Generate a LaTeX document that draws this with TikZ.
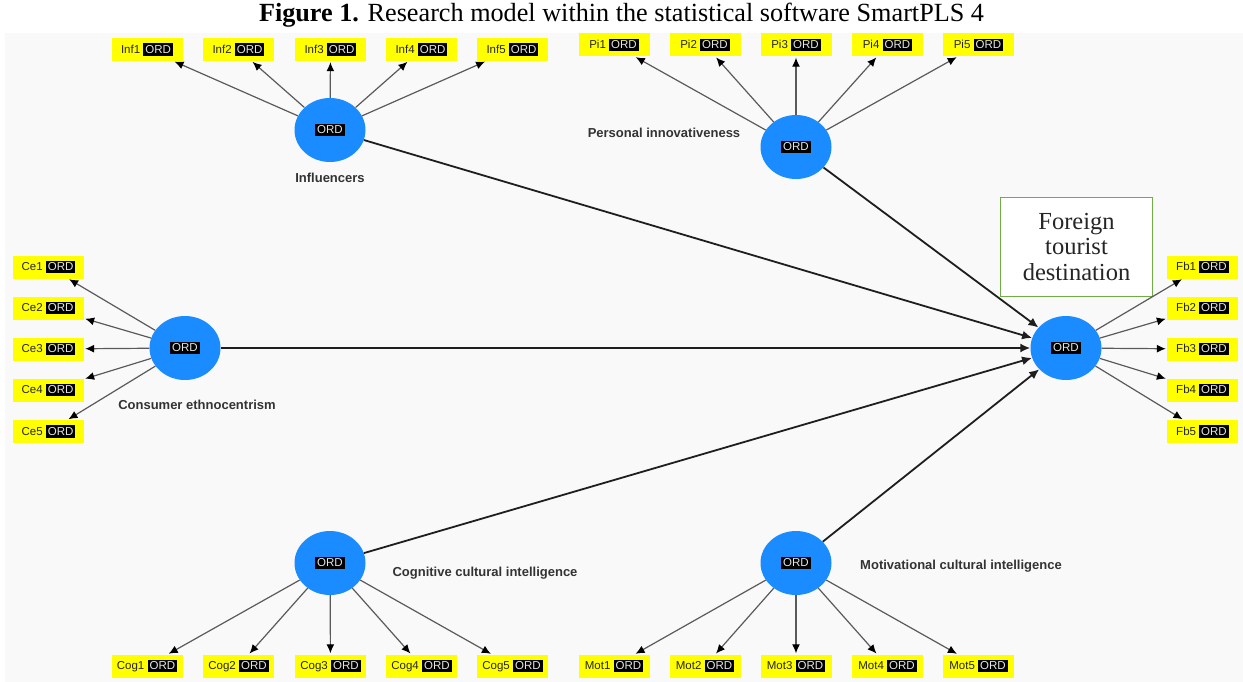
\documentclass[tikz,border=0pt]{standalone}
\usepackage{fontspec}
\setmainfont{Liberation Serif}
\setsansfont{Liberation Sans}
\usetikzlibrary{shapes.geometric,arrows.meta}
\definecolor{plsblue}{HTML}{1A8CFF}
\definecolor{plsyellow}{HTML}{FFFF00}
\definecolor{boxgreen}{HTML}{70AD47}
\definecolor{bggray}{HTML}{F9F9F9}
\definecolor{labgray}{HTML}{333333}
\definecolor{indline}{HTML}{5A5A5A}
\definecolor{pathline}{HTML}{1E1E1E}
\newcommand{\ordtag}{{\setlength{\fboxsep}{2pt}\colorbox{black}{\textcolor{white!90!black}{ORD}}}}
\tikzset{
  lv/.style={ellipse, fill=plsblue, minimum width=71pt, minimum height=64pt, inner sep=0pt,
    font=\sffamily\fontsize{11.5}{12}\selectfont},
  indbox/.style={rectangle, fill=plsyellow, minimum width=71pt, minimum height=23pt, inner sep=1pt,
    font=\sffamily\fontsize{11.5}{12}\selectfont, text=black!85},
  lvlabel/.style={font=\sffamily\bfseries\fontsize{13}{14}\selectfont, text=labgray, inner sep=0pt},
  indarrow/.style={draw=indline, line width=1.2pt, -{Latex[length=9pt,width=8pt,color=black]}, shorten >=1pt},
  patharrow/.style={draw=pathline, line width=1.8pt, -{Latex[length=10pt,width=9pt]}}
}
\begin{document}
\begin{tikzpicture}[x=1pt,y=-1pt]
\useasboundingbox (0,0) rectangle (1243,682);
\fill[white] (0,0) rectangle (1243,682);
\fill[bggray] (5,33) rectangle (1243,682);
% title
\node[font=\fontsize{26.2}{28}\selectfont, inner sep=0pt] (title) at (621.5,15) {\textbf{Figure 1.} Research model within the statistical software SmartPLS 4};
% latent variables
\node[lv] (inf) at (330,130) {\ordtag};
\node[lv] (pi) at (796,147) {\ordtag};
\node[lv] (ce) at (185,348) {\ordtag};
\node[lv] (fb) at (1066,348) {\ordtag};
\node[lv] (cog) at (330,563) {\ordtag};
\node[lv] (mot) at (796,563) {\ordtag};
% labels
\node[lvlabel] (linf) at (330,178) {Influencers};
\node[lvlabel] (lpi) at (664,133) {Personal innovativeness};
\node[lvlabel] (lce) at (197,405) {Consumer ethnocentrism};
\node[lvlabel] (lcog) at (485,573) {Cognitive cultural intelligence};
\node[lvlabel] (lmot) at (961,566) {Motivational cultural intelligence};
% foreign tourist destination box
\node[draw=boxgreen, line width=1.5pt, fill=white, minimum width=152pt, minimum height=99pt, inner sep=2pt,
  align=center, font=\fontsize{24.5}{25.5}\selectfont, text=black!85] (ftd) at (1076.5,247) {Foreign\\tourist\\destination};
% indicators
\foreach \i/\x in {1/147,2/238.5,3/330.5,4/421.5,5/512.5}{
  \node[indbox] (inf\i) at (\x,49.5) {Inf\i\ \ordtag};
  \node[indbox] (cog\i) at (\x,666) {Cog\i\ \ordtag};
  \draw[indarrow] (inf) -- (inf\i);
  \draw[indarrow] (cog) -- (cog\i);
}
\foreach \i/\x in {1/614,2/705,3/796,4/887.5,5/978.5}{
  \node[indbox] (pi\i) at (\x,45) {Pi\i\ \ordtag};
  \node[indbox] (mot\i) at (\x,666) {Mot\i\ \ordtag};
  \draw[indarrow] (pi) -- (pi\i);
  \draw[indarrow] (mot) -- (mot\i);
}
\foreach \i/\y in {1/267,2/308,3/349,4/390,5/431.5}{
  \node[indbox] (ce\i) at (48.5,\y) {Ce\i\ \ordtag};
  \node[indbox] (fb\i) at (1202.5,\y) {Fb\i\ \ordtag};
  \draw[indarrow] (ce) -- (ce\i);
  \draw[indarrow] (fb) -- (fb\i);
}
% structural paths
\draw[patharrow] (inf) -- (fb);
\draw[patharrow] (pi) -- (fb);
\draw[patharrow] (ce) -- (fb);
\draw[patharrow] (cog) -- (fb);
\draw[patharrow] (mot) -- (fb);
\end{tikzpicture}
\end{document}
